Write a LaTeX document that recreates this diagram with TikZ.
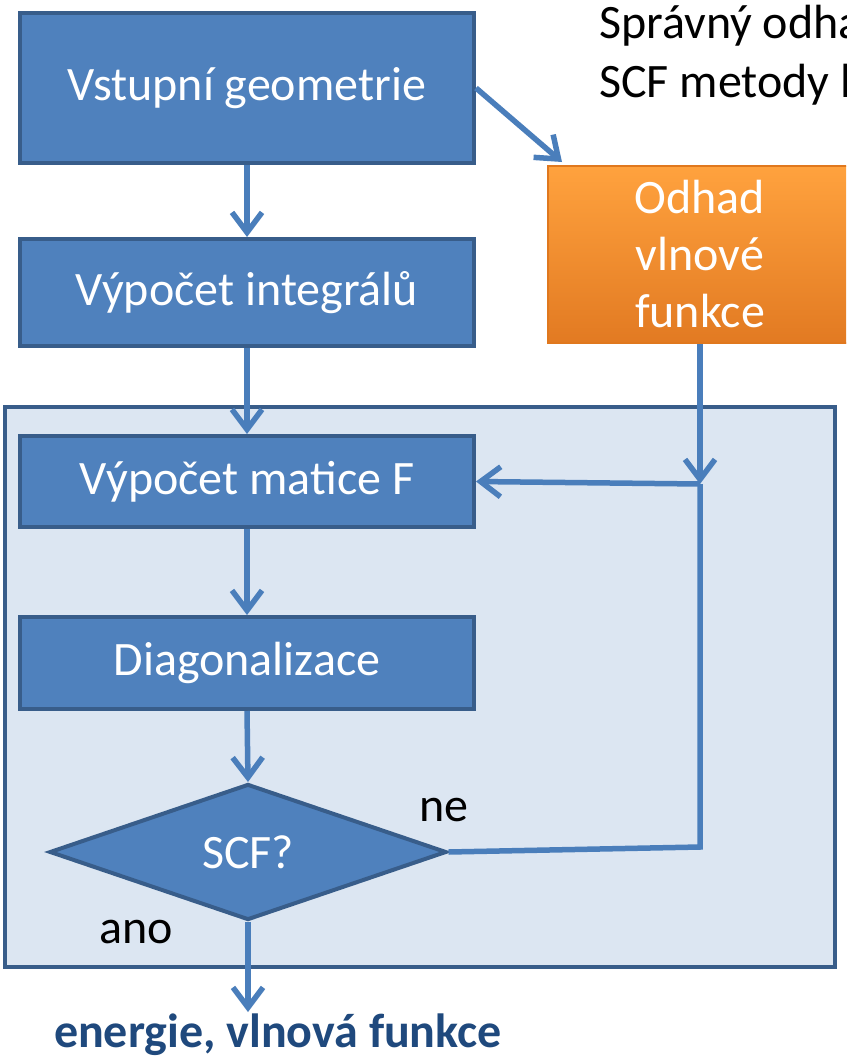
\documentclass[tikz,border=0pt]{standalone}
\usepackage{fontspec}
\setmainfont{Carlito}
\usetikzlibrary{arrows.meta,shapes.geometric,calc}
\definecolor{boxfill}{HTML}{4F81BD}
\definecolor{boxline}{HTML}{385D8A}
\definecolor{bgfill}{HTML}{DCE6F2}
\definecolor{arr}{HTML}{4A7EBB}
\definecolor{orgtop}{HTML}{FFA23E}
\definecolor{orgbot}{HTML}{E27A22}
\definecolor{orgline}{HTML}{E0781E}
\definecolor{outtext}{HTML}{1F497D}
\tikzset{
  stepbox/.style={rectangle, fill=boxfill, draw=boxline, line width=4pt, text=white,
    inner sep=0pt, minimum width=454pt, font=\fontsize{48}{57}\selectfont},
  orangebox/.style={rectangle, top color=orgtop, bottom color=orgbot, draw=orgline, line width=2pt,
    text=white, inner sep=0pt, minimum width=304pt, minimum height=177pt, align=center,
    font=\fontsize{48}{57}\selectfont},
  decision/.style={diamond, fill=boxfill, draw=boxline, line width=4pt, text=white, inner sep=0pt,
    minimum width=397pt, minimum height=136pt, shape aspect=2.92, font=\fontsize{48}{57}\selectfont},
  conn/.style={draw=arr, line width=5.5pt},
  arrowconn/.style={conn, -{Straight Barb[length=20pt,width=30pt,line width=5.5pt]}},
  lbl/.style={inner sep=0pt, font=\fontsize{48}{57}\selectfont},
}
\begin{document}
\begin{tikzpicture}[x=1pt,y=-1pt]
\useasboundingbox (0,0) rectangle (846,1060);
\clip (0,0) rectangle (846,1060);
\fill[white] (0,0) rectangle (846,1060);
% background group
\node[rectangle, fill=bgfill, draw=boxline, line width=4pt, minimum width=830pt, minimum height=560pt, inner sep=0pt] (group) at (420,687) {};
% top note
\node[lbl, anchor=base west] (note1) at (599,38) {Správný odha};
\node[lbl, anchor=base west] (note2) at (599,97) {SCF metody l};
% boxes
\node[stepbox, minimum height=150pt] (b1) at (247,88) {Vstupní geometrie};
\node[stepbox, minimum height=107pt] (b2) at (247,292.5) {Výpočet integrálů};
\node[stepbox, minimum height=91pt] (bF) at (247,481.5) {Výpočet matice F};
\node[stepbox, minimum height=92pt] (bD) at (247,663) {Diagonalizace};
\node[decision] (dia) at (248,852) {SCF?};
\node[orangebox] (org) at (700,254.5) {Odhad\\vlnové\\funkce};
% labels
\node[lbl] (ne) at (444,810) {ne};
\node[lbl] (ano) at (136,932) {ano};
\node[lbl, text=outtext, font=\fontsize{48}{57}\selectfont\bfseries] (out) at (278,1035) {energie, vlnová funkce};
% coordinates
\coordinate (j) at (700,484);
\coordinate (k) at (700,847);
\coordinate (o) at (248,1012);
% connectors
\draw[arrowconn] (b1.south) -- (b2.north);
\draw[arrowconn] (b1.east) -- ([xshift=15pt,yshift=3pt]org.north west);
\draw[arrowconn] (b2.south) -- (bF.north);
\draw[arrowconn] (bF.south) -- (bD.north);
\draw[arrowconn] (bD.south) -- (dia.north);
\draw[arrowconn] (org.south) -- (j);
\draw[arrowconn] (j) -- (bF.east);
\draw[conn] (dia.east) -- (k) -- (j);
\draw[arrowconn] (dia.south) -- (o);
\end{tikzpicture}
\end{document}
